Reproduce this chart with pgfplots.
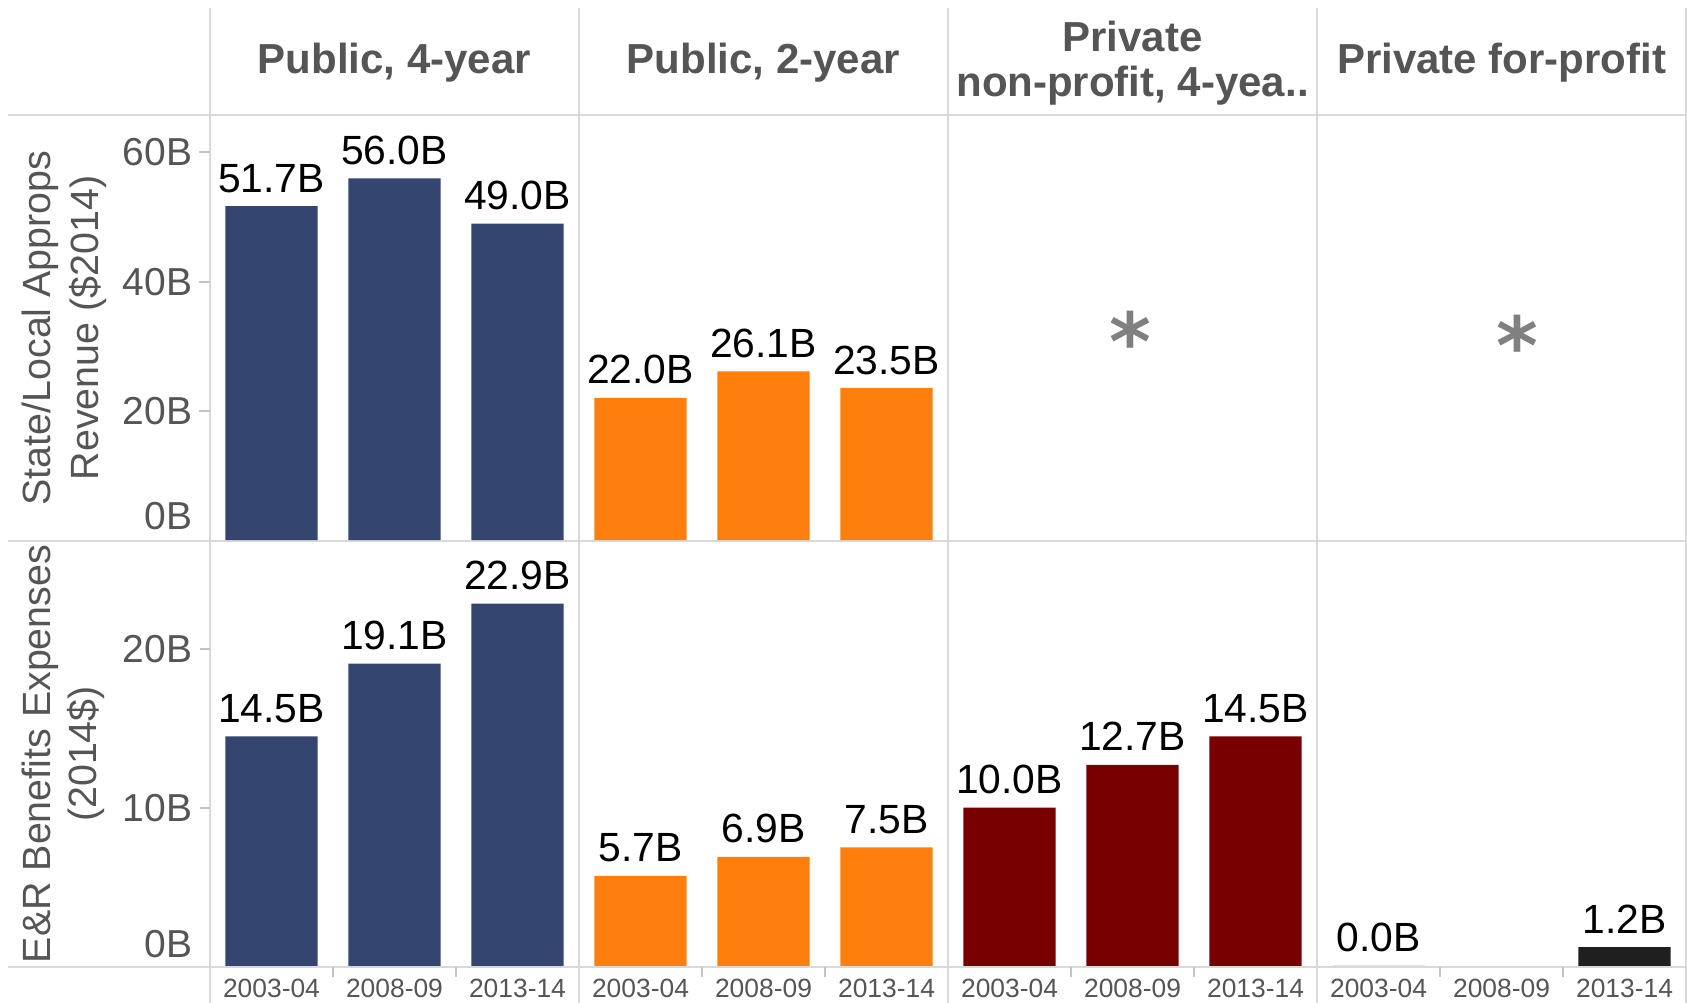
\documentclass[border=0pt]{standalone}
\usepackage{pgfplots}
\pgfplotsset{compat=1.18}
\usepackage{fontspec}
\setmainfont{Liberation Sans}
\newfontfamily\djv{DejaVu Sans}
\definecolor{navy}{RGB}{52,70,112}
\definecolor{orng}{RGB}{255,127,14}
\definecolor{dred}{RGB}{121,0,0}
\definecolor{blk}{RGB}{31,31,31}
\definecolor{gridc}{RGB}{217,217,217}
\definecolor{tickc}{RGB}{195,195,195}
\definecolor{txtg}{RGB}{85,85,85}
\definecolor{astg}{RGB}{128,128,128}

\pgfplotsset{
  panel/.style={
    scale only axis, width=92.25pt, height=106.5pt, anchor=south west,
    xmin=-0.5, xmax=2.5, clip=false,
    /pgf/number format/assume math mode=true,
    axis lines*=left, axis line style={draw=none},
    tick align=outside, major tick length=0pt, minor tick length=2.5pt,
    tick style={draw=tickc, line width=0.5pt},
    xtick=\empty, ytick=\empty,
    ybar, bar width=0.75, bar shift=0pt,
    nodes near coords={\pgfmathprintnumber[fixed,fixed zerofill,precision=1,assume math mode=true]{\pgfplotspointmeta}B},
    every node near coord/.append style={font=\fontsize{10.2}{12}\selectfont, text=black, anchor=base, yshift=3.5pt, inner sep=0pt},
    yticklabel style={font=\fontsize{9.75}{11}\selectfont, text=txtg, inner sep=0pt, anchor=east, xshift=-4.25pt},
    xticklabel style={font=\fontsize{6.6}{8}\selectfont, text=txtg, inner sep=0pt, anchor=north, yshift=-2.9pt},
  },
  toprow/.style={panel, ymin=-0.15, ymax=65.8},
  botrow/.style={panel, ymin=-0.063, ymax=26.85, xtick={0,1,2}, xticklabels={2003-04,2008-09,2013-14}, minor xtick={0.5,1.5}},
}

\begin{document}
\begin{tikzpicture}
\useasboundingbox (0,0) rectangle (421.75pt,250.75pt);
\begin{scope}[x=0.25pt,y=-0.25pt,yshift=250.75pt]
  \foreach \x in {210,579,948,1317,1686} \draw[gridc, line width=0.5pt] (\x,8) -- (\x,1003);
  \foreach \y in {115,541,967} \draw[gridc, line width=0.5pt] (8,\y) -- (1687,\y);
  \begin{scope}[font=\fontsize{10.5}{11.25}\selectfont\bfseries, text=txtg]
    \node at (394.5,63) {Public, 4-year};
    \node at (763.5,63) {Public, 2-year};
    \node[align=center] at (1132.5,63) {Private\\non-profit, 4-yea..};
    \node at (1501.5,63) {Private for-profit};
  \end{scope}
  \node[rotate=90, align=center, font=\fontsize{9.85}{12}\selectfont, text=txtg] at (64,328) {State/Local Approps\\Revenue (\$2014)};
  \node[rotate=90, align=center, font=\fontsize{9.85}{11.5}\selectfont, text=txtg] at (63,754) {E\&R Benefits Expenses\\(2014\$)};
  \node[font=\djv\bfseries\fontsize{20}{20}\selectfont, text=astg] at (1130,341) {*};
  \node[font=\djv\bfseries\fontsize{20}{20}\selectfont, text=astg] at (1517,345) {*};
\end{scope}

% ---- top row ----
\begin{axis}[toprow, at={(52.5pt,115.5pt)}, ytick={0,20,40,60}, minor ytick={20,40,60}, minor tick length=2.75pt,
  yticklabels={{\raisebox{6pt}[\height][\depth]{0B}},20B,40B,60B}]
\addplot[fill=navy, draw=none] coordinates {(0,51.7) (1,56.0) (2,49.0)};
\end{axis}
\begin{axis}[toprow, at={(144.75pt,115.5pt)}]
\addplot[fill=orng, draw=none] coordinates {(0,22.0) (1,26.1) (2,23.5)};
\end{axis}

% ---- bottom row ----
\begin{axis}[botrow, at={(52.5pt,9pt)}, ytick={0,10,20}, minor ytick={10,20},
  yticklabels={{\raisebox{5.5pt}[\height][\depth]{0B}},10B,20B}]
\addplot[fill=navy, draw=none] coordinates {(0,14.5) (1,19.1) (2,22.9)};
\end{axis}
\begin{axis}[botrow, at={(144.75pt,9pt)}]
\addplot[fill=orng, draw=none] coordinates {(0,5.7) (1,6.9) (2,7.5)};
\end{axis}
\begin{axis}[botrow, at={(237pt,9pt)}]
\addplot[fill=dred, draw=none] coordinates {(0,10.0) (1,12.7) (2,14.5)};
\end{axis}
\begin{axis}[botrow, at={(329.25pt,9pt)}]
\addplot[fill=blk, draw=none] coordinates {(0,0.0) (2,1.2)};
\end{axis}
\end{tikzpicture}
\end{document}
